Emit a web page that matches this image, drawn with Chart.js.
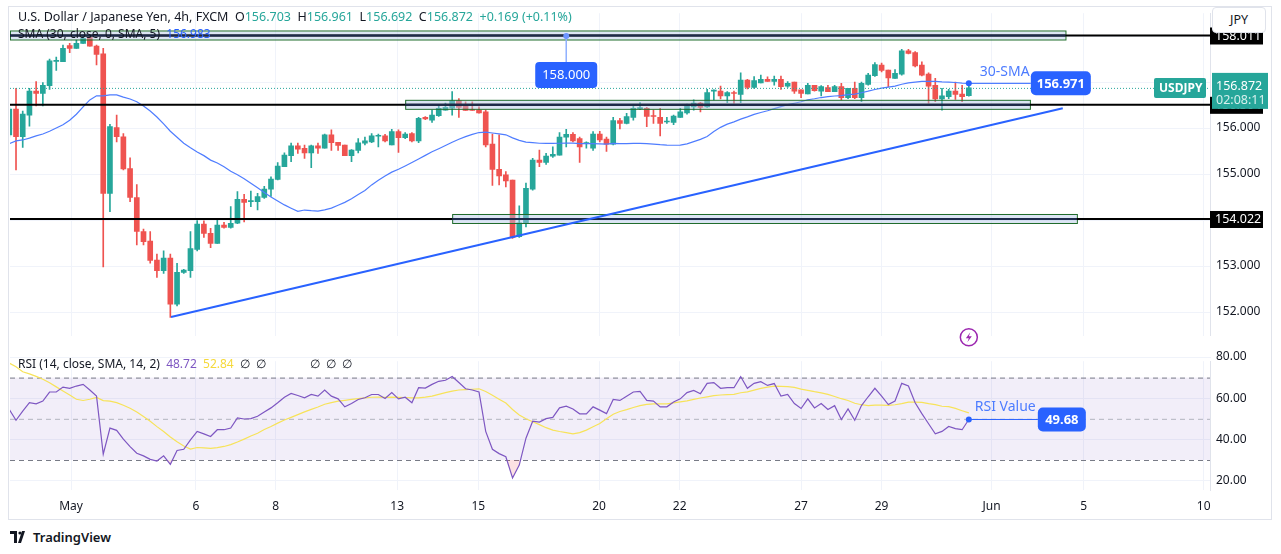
<!DOCTYPE html>
<html><head><meta charset="utf-8">
<script src="https://cdn.jsdelivr.net/npm/chart.js@4.4.1/dist/chart.umd.min.js"></script>
<style>
body{margin:0;background:#fff;font-family:"Noto Sans",sans-serif;color:#131722;width:1281px;height:554px;position:relative;overflow:hidden}
canvas{position:absolute;left:0}
.t{position:absolute;white-space:pre;font-size:12.5px;z-index:5}
#frame{position:absolute;left:8px;top:6px;width:1264px;height:514px;border:1px solid #e0e3eb;box-sizing:border-box;pointer-events:none}
</style></head><body>
<div id="frame"></div>
<canvas id="main" width="1281" height="349" style="top:0"></canvas>
<canvas id="rsi" width="1281" height="172" style="top:348px"></canvas>
<div class="t" style="left:18px;top:8px;font-size:12.5px">U.S. Dollar / Japanese Yen, 4h, FXCM  O<span style="color:#26a69a">156.703</span>  H<span style="color:#26a69a">156.961</span>  L<span style="color:#26a69a">156.692</span>  C<span style="color:#26a69a">156.872</span>  <span style="color:#26a69a">+0.169 (+0.11%)</span></div>
<div class="t" style="left:18px;top:25px;font-size:12px;color:#131722">SMA (30, close, 0, SMA, 5)  <span style="color:#2962ff">156.983</span></div>
<div class="t" style="left:18px;top:355px;font-size:12px">RSI (14, close, SMA, 14, 2)  <span style="color:#7e57c2">48.72</span>  <span style="color:#f5d93b">52.84</span>  ∅  ∅              ∅  ∅  ∅</div>
<div class="t" style="left:1212px;top:7px;width:52px;height:24px;border:1px solid #e0e3eb;border-radius:4px;background:#fff;text-align:center;line-height:24px;font-size:12.5px">JPY</div>
<div class="t" style="left:10px;top:528px;font-size:13px;display:flex;align-items:center;gap:5px"><svg width="18" height="12" viewBox="0 0 18 12"><path d="M0 0h7v12H4V3H0z M8 12l4-12h3l-4 12z" fill="#131722"/><circle cx="10" cy="2" r="1.6" fill="#131722"/></svg><span style="font-weight:600">TradingView</span></div>
<script>
// ---------- DATA ----------
const opens = [155.85,156.41,155.81,156.28,156.80,156.75,156.92,157.45,157.44,157.79,157.73,157.84,157.97,157.78,157.61,154.58,156.01,155.81,155.12,154.49,153.75,153.54,153.13,152.90,153.17,152.17,152.86,152.90,153.36,153.91,153.71,153.49,153.89,153.84,153.93,154.45,154.40,154.40,154.49,154.67,154.88,155.16,155.40,155.61,155.56,155.46,155.61,155.56,155.85,155.69,155.63,155.40,155.51,155.67,155.70,155.82,155.83,155.63,155.92,155.79,155.88,155.72,156.23,156.17,156.27,156.39,156.43,156.59,156.48,156.39,156.39,156.35,155.65,155.10,154.98,154.87,153.64,153.93,154.67,155.30,155.25,155.39,155.41,155.80,155.86,155.77,155.66,155.56,155.87,155.76,155.65,156.16,156.10,156.23,156.42,156.43,156.26,156.23,156.13,156.12,156.23,156.33,156.46,156.54,156.46,156.80,156.80,156.70,156.77,156.73,157.04,156.88,156.98,157.06,157.01,157.06,156.91,157.00,156.83,156.74,156.93,156.80,156.88,156.79,156.90,156.66,156.86,156.66,156.95,157.14,157.37,157.26,157.08,157.17,157.68,157.64,157.37,157.17,156.93,156.63,156.68,156.80,156.74,156.703];
const highs = [156.45,156.86,156.37,156.86,157.01,156.99,157.50,157.54,157.80,157.84,157.91,158.02,158.00,157.80,157.73,156.08,156.28,155.88,155.35,154.77,153.80,153.75,153.26,153.33,153.26,153.06,152.93,153.75,153.99,153.98,153.82,154.00,153.95,154.29,154.62,154.56,154.63,154.58,154.73,154.94,155.25,155.46,155.67,155.67,155.63,155.63,155.67,155.87,155.96,155.69,155.63,155.53,155.77,155.80,155.88,155.87,155.86,155.97,155.96,155.90,155.90,156.23,156.25,156.39,156.48,156.54,156.79,156.64,156.57,156.57,156.46,156.39,155.87,155.85,155.05,154.87,154.31,154.80,155.34,155.52,155.45,155.59,155.90,155.97,155.90,155.80,155.70,155.92,155.93,155.80,156.23,156.21,156.32,156.47,156.55,156.45,156.39,156.43,156.23,156.28,156.43,156.52,156.61,156.56,156.84,156.83,156.91,156.79,156.80,157.20,157.06,157.12,157.15,157.11,157.13,157.13,157.01,157.00,156.83,156.97,156.93,156.92,156.93,156.93,156.97,156.86,157.00,157.00,157.19,157.42,157.41,157.26,157.27,157.71,157.71,157.66,157.44,157.20,157.08,156.86,156.84,157.00,156.93,156.961];
const lows = [155.80,155.09,155.58,156.04,156.48,156.48,156.84,157.25,157.44,157.64,157.73,157.84,157.78,157.37,152.98,154.18,155.70,155.09,154.40,153.46,153.46,153.06,152.75,152.84,151.88,152.13,152.84,152.75,153.33,153.62,153.40,153.49,153.82,153.82,153.92,153.96,154.29,154.22,154.47,154.51,154.87,155.16,155.27,155.45,155.34,155.14,155.45,155.56,155.51,155.51,155.40,155.27,155.46,155.63,155.68,155.59,155.70,155.63,155.47,155.77,155.70,155.68,156.18,156.12,156.25,156.39,156.28,156.23,156.38,156.38,156.32,155.59,154.75,154.76,154.72,153.60,153.62,153.85,154.65,155.16,155.21,155.36,155.41,155.59,155.70,155.25,155.56,155.51,155.70,155.49,155.63,155.98,156.09,156.17,156.40,156.03,156.10,155.83,156.10,156.07,156.23,156.30,156.39,156.35,156.45,156.61,156.63,156.55,156.54,156.55,156.85,156.86,156.98,157.01,156.93,156.84,156.88,156.75,156.66,156.74,156.80,156.70,156.79,156.79,156.61,156.64,156.64,156.57,156.93,157.12,157.22,156.90,157.08,157.15,157.61,157.33,157.13,156.54,156.57,156.39,156.64,156.62,156.57,156.692];
const closes = [156.41,155.81,156.30,156.80,156.75,156.93,157.46,157.46,157.73,157.73,157.84,157.95,157.78,157.60,154.58,156.03,155.81,155.11,154.49,153.75,153.53,153.12,152.90,153.17,152.17,152.86,152.91,153.38,153.91,153.71,153.49,153.89,153.84,153.93,154.45,154.38,154.41,154.51,154.67,154.89,155.17,155.41,155.61,155.54,155.46,155.61,155.56,155.85,155.68,155.62,155.40,155.52,155.68,155.72,155.83,155.83,155.72,155.92,155.79,155.87,155.72,156.21,156.20,156.28,156.43,156.45,156.59,156.45,156.38,156.38,156.33,155.63,155.10,154.96,154.85,153.62,153.94,154.69,155.30,155.25,155.39,155.43,155.80,155.86,155.72,155.59,155.67,155.87,155.74,155.65,156.16,156.10,156.25,156.43,156.43,156.25,156.25,156.10,156.14,156.26,156.35,156.48,156.54,156.45,156.77,156.81,156.70,156.77,156.75,157.04,156.88,157.03,157.06,157.01,157.06,156.90,156.97,156.80,156.75,156.93,156.81,156.90,156.79,156.90,156.66,156.86,156.66,156.97,157.15,157.38,157.25,157.09,157.19,157.68,157.62,157.35,157.15,156.91,156.63,156.70,156.80,156.73,156.68,156.872];
const smaEarly = [155.66,155.72,155.74,155.78,155.83,155.87,155.93,156.00,156.07,156.17,156.30,156.46,156.61,156.70,156.70,156.72,156.72,156.67,156.63,156.57,156.48,156.37,156.24,156.09,155.93,155.80,155.67,155.57,155.48];
const rsiValues = [54.5,49.3,53.7,57.8,57.3,58.6,63,63,65.4,64.8,65.9,66.7,64,61,32.8,45.5,44.4,40.1,36.5,33.3,32,30.3,29.5,32,27.9,34.6,35.2,39.8,43.9,42.7,41.4,44.7,44.7,45.5,50.4,49.9,50.1,51.2,53.3,55.3,57.8,60.5,62.3,61.3,60.2,61.8,61,64,61,59.7,55.8,57.4,59.4,60.2,61.8,61.8,59.9,62.7,59.7,60.5,57.8,65.1,64.9,66.7,68.2,68.7,70.5,67.6,64.6,64,63,43.9,35.2,33.1,31.6,21.3,27.5,40.6,48.8,48.4,50.1,50.7,55.3,56.1,54.8,52.4,52.4,55.8,54.2,52.5,59.4,58.9,61,63,63.3,58.9,58.6,55.8,55.8,58.2,59.7,62.7,63.8,62.2,67.2,67.6,64.8,65.1,65.1,70.5,64.8,67.2,68,66.2,67.1,61,61.8,57.4,55,59.7,55.3,57.4,54.5,56.4,49.6,54.8,49.3,56.4,60.7,64.8,61,56.9,58.6,67.2,65.9,57.8,52.5,47.6,42.7,43.9,46.3,45.2,44.7,49.68];
const rsiMaEarly = [77,75.3,72.8,71.8,70.6,69.2,67.5,65.5,63.5,61.5,59.5,58.9,59.5];
const priceTicks = [152,153,154,155,156,157,158];
const rsiTicks = [20,40,60,80];
const timeLabels = ['May','6','8','13','15','20','22','27','29','Jun','5','10'];
const timePositions = [9.2,27.8,39.7,57.8,69.9,87.9,99.9,118,130,146.4,160.1,178];
const levels = [158.011,156.504,154.022];
const zoneStart = [0.1,59,66];
const zoneEnd = [157.4,152.1,159.1];
const trendFrom = [24.1,151.89];
const trendTo = [157,156.43];
const callout158 = [83,158.0];

// ---------- derived indicator lines ----------
const sma = closes.map((c,i)=> i<29 ? smaEarly[i] : closes.slice(i-29,i+1).reduce((a,b)=>a+b,0)/30);
const rsiMa = rsiValues.map((v,i)=> i<13 ? rsiMaEarly[i] : rsiValues.slice(i-13,i+1).reduce((a,b)=>a+b,0)/14);
const idx = closes.map((_,i)=>i);
const GREEN='#26a69a', RED='#ef5350', BLUE='#2962ff';
const col = idx.map(i=> closes[i]>=opens[i]?GREEN:RED);
const lastI = closes.length-1;

const X0=9.3, DX=6.71;
const P_Y=36, P_V=158, P_K=46;
const R_Y=357, R_V=80, R_K=2.06;
const FONT = '"Noto Sans", sans-serif';
Chart.defaults.font.family = FONT;
Chart.defaults.animation = false;

function xScale(showLabels){
  return {type:'linear',min:0.1,max:178.9,offset:false,
    afterBuildTicks:s=>{s.ticks=timePositions.map(v=>({value:v}));},
    afterFit:s=>{s.height = showLabels?30:0;},
    grid:{color:'#f0f3fa',drawTicks:false,offset:false},
    border:{display:false},
    ticks:{display:showLabels,autoSkip:false,maxRotation:0,color:'#131722',font:{size:12},padding:9,
      callback:v=>{const k=timePositions.indexOf(v);return k>=0?timeLabels[k]:'';}}};
}
function calibrate(chart,top,v0,y0,k){
  const a=chart.chartArea;
  chart.options.scales.x.min=(a.left-X0)/DX;
  chart.options.scales.x.max=(a.right-X0)/DX;
  chart.options.scales.y.max=v0-((a.top+top)-y0)/k;
  chart.options.scales.y.min=v0-((a.bottom+top)-y0)/k;
  chart.update('none');
}

function roundRect(ctx,x,y,w,h,r,fill){ctx.beginPath();ctx.roundRect(x,y,w,h,r);ctx.fillStyle=fill;ctx.fill();}

const overlay = {
  id:'overlay',
  afterDatasetsDraw(chart){
    const {ctx,chartArea:a,scales:{x,y}}=chart;
    ctx.save();
    ctx.beginPath();ctx.rect(a.left,a.top,a.right-a.left+80,a.bottom-a.top);ctx.clip();
    const yc=y.getPixelForValue(closes[lastI]);
    ctx.setLineDash([1,2]);ctx.strokeStyle=GREEN;ctx.lineWidth=1;
    ctx.beginPath();ctx.moveTo(a.left,yc+0.5);ctx.lineTo(a.right,yc+0.5);ctx.stroke();ctx.setLineDash([]);
    levels.forEach((lv,k)=>{
      const yl=y.getPixelForValue(lv);
      const x0=x.getPixelForValue(zoneStart[k]), x1=x.getPixelForValue(zoneEnd[k]);
      ctx.fillStyle='rgba(178,198,230,0.45)';ctx.fillRect(x0,yl-4,x1-x0,8);
      ctx.strokeStyle='#1e6b2a';ctx.lineWidth=1;ctx.strokeRect(x0+0.5,yl-4.5,x1-x0,9);
      ctx.strokeStyle='#000';ctx.lineWidth=2;
      ctx.beginPath();ctx.moveTo(a.left,yl);ctx.lineTo(a.right,yl);ctx.stroke();
      ctx.strokeStyle='#1c2a4a';ctx.beginPath();ctx.moveTo(x0,yl);ctx.lineTo(x1,yl);ctx.stroke();
    });
    ctx.strokeStyle=BLUE;ctx.lineWidth=2;
    ctx.beginPath();ctx.moveTo(x.getPixelForValue(trendFrom[0]),y.getPixelForValue(trendFrom[1]));
    ctx.lineTo(x.getPixelForValue(trendTo[0]),y.getPixelForValue(trendTo[1]));ctx.stroke();
    const cx=x.getPixelForValue(callout158[0]), cy=y.getPixelForValue(callout158[1]);
    ctx.strokeStyle='#8fb0ff';ctx.lineWidth=1.5;ctx.beginPath();ctx.moveTo(cx,cy);ctx.lineTo(cx,cy+27);ctx.stroke();
    ctx.fillStyle='#6c95ff';ctx.beginPath();ctx.arc(cx,cy,3,0,Math.PI*2);ctx.fill();
    roundRect(ctx,cx-31,cy+26,62,26,4,BLUE);
    ctx.fillStyle='#fff';ctx.font='13px '+FONT;ctx.textAlign='center';ctx.textBaseline='middle';
    ctx.fillText(callout158[1].toFixed(3),cx,cy+39.5);
    const sx=x.getPixelForValue(lastI), sy=y.getPixelForValue(sma[lastI]);
    ctx.strokeStyle=BLUE;ctx.lineWidth=1;ctx.beginPath();ctx.moveTo(sx,sy);ctx.lineTo(sx+62,sy);ctx.stroke();
    ctx.fillStyle=BLUE;ctx.beginPath();ctx.arc(sx,sy,3,0,Math.PI*2);ctx.fill();
    ctx.font='14px '+FONT;ctx.textAlign='left';ctx.fillStyle='#4d7cff';ctx.fillText('30-SMA',sx+11,sy-11);
    roundRect(ctx,sx+62,sy-12,60,24,5,BLUE);
    ctx.fillStyle='#fff';ctx.font='bold 13px '+FONT;ctx.textAlign='center';ctx.fillText(sma[lastI].toFixed(3),sx+92,sy+0.5);
    ctx.restore();
  },
  afterDraw(chart){
    const {ctx,chartArea:a,scales:{x,y}}=chart;
    ctx.save();
    const lx=x.getPixelForValue(lastI), ly=y.getPixelForValue(151.45);
    ctx.strokeStyle='#9c27b0';ctx.lineWidth=1.5;ctx.beginPath();ctx.arc(lx,ly,8.5,0,Math.PI*2);ctx.stroke();
    ctx.fillStyle='#9c27b0';ctx.beginPath();ctx.moveTo(lx+1.5,ly-5);ctx.lineTo(lx-3,ly+1);ctx.lineTo(lx,ly+1);ctx.lineTo(lx-1.5,ly+5);ctx.lineTo(lx+3,ly-1);ctx.lineTo(lx,ly-1);ctx.closePath();ctx.fill();
    ctx.font='12.5px '+FONT;ctx.textBaseline='middle';ctx.textAlign='left';
    levels.forEach(lv=>{
      const yl=y.getPixelForValue(lv);
      ctx.fillStyle='#000';ctx.fillRect(a.right,yl-8,53,17);
      ctx.fillStyle='#fff';ctx.fillText(lv.toFixed(3),a.right+5,yl+0.5);
    });
    const yc=y.getPixelForValue(closes[lastI]);
    ctx.fillStyle=GREEN;ctx.fillRect(a.right+2,yc-15,56,36);
    roundRect(ctx,a.right-56,yc-10,52,20,2,GREEN);
    ctx.fillStyle='#fff';ctx.font='bold 12px '+FONT;ctx.fillText('USDJPY',a.right-51,yc+0.5);
    ctx.font='12.5px '+FONT;ctx.fillText(closes[lastI].toFixed(3),a.right+6,yc-1);
    ctx.fillStyle='#d6f0ed';ctx.fillText('02:08:11',a.right+6,yc+13);
    ctx.restore();
  }
};

const mainChart = new Chart(document.getElementById('main'),{
  data:{datasets:[
    {type:'bar',data:idx.map(i=>({x:i,y:[lows[i],highs[i]]})),backgroundColor:col,barThickness:1,grouped:false,order:3},
    {type:'bar',data:idx.map(i=>({x:i,y:[opens[i],closes[i]]})),backgroundColor:col,barThickness:5,minBarLength:1,grouped:false,order:2},
    {type:'line',data:idx.map(i=>({x:i,y:sma[i]})),borderColor:'#4f7dff',borderWidth:1.2,pointRadius:0,tension:0,order:1}
  ]},
  options:{responsive:false,animation:false,
    layout:{padding:{left:10,top:8,right:0,bottom:2}},
    plugins:{legend:{display:false},tooltip:{enabled:false}},
    scales:{x:xScale(false),
      y:{position:'right',min:151.239,max:158.609,
        afterBuildTicks:s=>{s.ticks=priceTicks.map(v=>({value:v}));},
        afterFit:s=>{s.width=71;},
        grid:{color:'#f0f3fa',tickLength:0},border:{color:'#e0e3eb'},
        ticks:{color:'#131722',font:{size:12},padding:6,callback:v=>v.toFixed(3)}}}
  },
  plugins:[overlay]
});
calibrate(mainChart,0,P_V,P_Y,P_K);

const rsiBand = {
  id:'rsiBand',
  beforeDatasetsDraw(chart){
    const {ctx,chartArea:a,scales:{y}}=chart;
    ctx.save();
    const y70=y.getPixelForValue(70), y30=y.getPixelForValue(30), y50=y.getPixelForValue(50);
    ctx.fillStyle='rgba(126,87,194,0.1)';ctx.fillRect(a.left,y70,a.right-a.left,y30-y70);
    ctx.setLineDash([5,4]);
    [[y70,'#787b86'],[y30,'#787b86'],[y50,'#b2b5be']].forEach(([yy,c])=>{ctx.strokeStyle=c;ctx.lineWidth=1;ctx.beginPath();ctx.moveTo(a.left,yy+0.5);ctx.lineTo(a.right,yy+0.5);ctx.stroke();});
    ctx.restore();
  },
  afterDatasetsDraw(chart){
    const {ctx,scales:{x,y}}=chart;
    ctx.save();
    const px=x.getPixelForValue(lastI), py=y.getPixelForValue(rsiValues[lastI]);
    ctx.strokeStyle=BLUE;ctx.lineWidth=1;ctx.beginPath();ctx.moveTo(px,py);ctx.lineTo(px+69,py);ctx.stroke();
    ctx.fillStyle=BLUE;ctx.beginPath();ctx.arc(px,py,3,0,Math.PI*2);ctx.fill();
    ctx.font='14px '+FONT;ctx.fillStyle='#4d7cff';ctx.textBaseline='middle';ctx.textAlign='left';ctx.fillText('RSI Value',px+6,py-12);
    roundRect(ctx,px+69,py-12,48,24,5,BLUE);
    ctx.fillStyle='#fff';ctx.font='bold 13px '+FONT;ctx.textAlign='center';ctx.fillText(rsiValues[lastI].toFixed(2),px+93,py+0.5);
    ctx.restore();
  }
};

const rsiChart = new Chart(document.getElementById('rsi'),{
  type:'line',
  data:{datasets:[
    {data:idx.map(i=>({x:i,y:rsiMa[i]})),borderColor:'#f7e35a',borderWidth:1.2,pointRadius:0,order:2},
    {data:idx.map(i=>({x:i,y:rsiValues[i]})),borderColor:'#7e57c2',borderWidth:1.2,pointRadius:0,order:1,
     fill:{target:{value:30},above:'rgba(0,0,0,0)',below:'rgba(242,54,69,0.15)'}}
  ]},
  options:{responsive:false,animation:false,
    layout:{padding:{left:10,top:1,right:0,bottom:0}},
    plugins:{legend:{display:false},tooltip:{enabled:false},filler:{propagate:false}},
    scales:{x:xScale(true),
      y:{position:'right',min:15.63,max:83.88,
        afterBuildTicks:s=>{s.ticks=rsiTicks.map(v=>({value:v}));},
        afterFit:s=>{s.width=71;},
        grid:{color:'#f0f3fa',tickLength:0},border:{color:'#e0e3eb'},
        ticks:{color:'#131722',font:{size:12},padding:6,callback:v=>v.toFixed(2)}}}
  },
  plugins:[rsiBand]
});
calibrate(rsiChart,348,R_V,R_Y,R_K);
</script>
</body></html>
